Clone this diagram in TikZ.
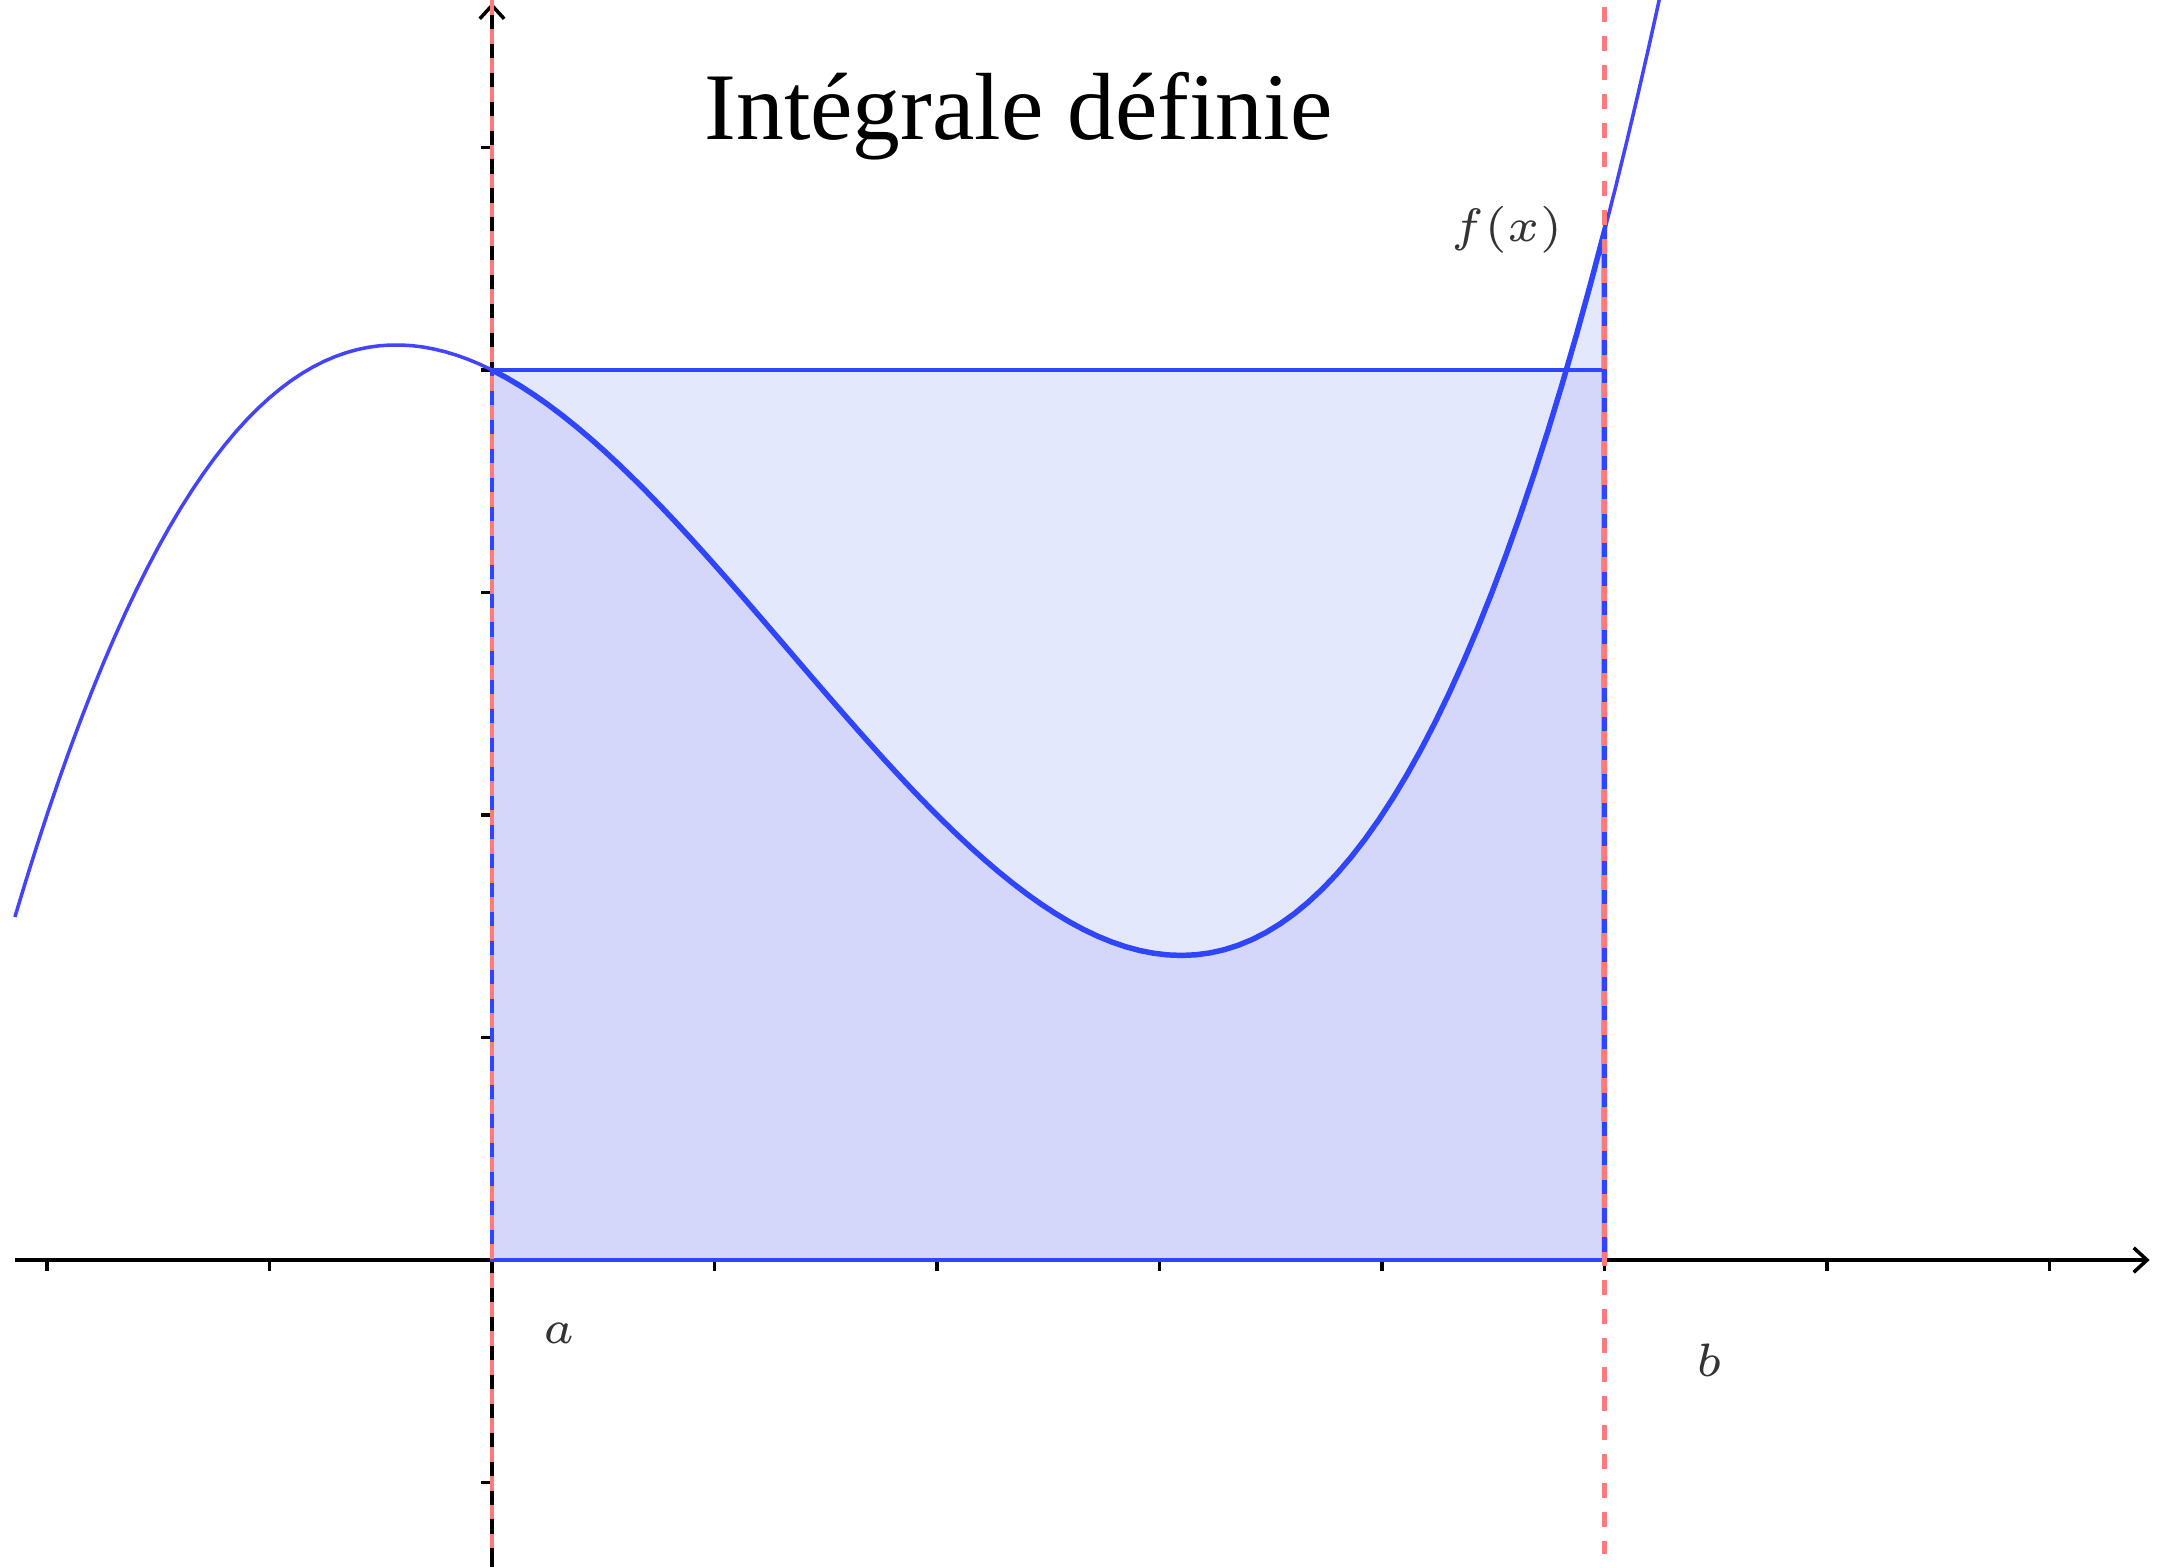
\documentclass[tikz,border=0pt]{standalone}
\usepackage{fontspec}
\newfontfamily\titlefont{Liberation Serif}
\usepackage{xcolor}
\definecolor{cCurve}{HTML}{4444FF}
\definecolor{cBound}{HTML}{2F45FF}
\definecolor{cFillLight}{HTML}{E4E8FC}
\definecolor{cFillDark}{HTML}{D4D7FA}
\definecolor{cDash}{HTML}{FF7B7B}
\definecolor{cLabel}{HTML}{333333}
\usepackage{tikz}
\usetikzlibrary{arrows.meta}
\tikzset{
  declare function={fx(\t)=(\t)*(\t)*(\t)/8-(\t)*(\t)/2-(\t)/2+4;},
  axis-line/.style={line width=0.45pt,draw=black,-{Straight Barb[length=0.6mm,width=1.1mm]}},
  tick-line/.style={line width=0.4pt,draw=black},
  curve-line/.style={line width=0.45pt,draw=cCurve},
  bound-line/.style={line width=0.7pt,draw=cBound},
  rect-line/.style={line width=0.5pt,draw=cBound},
  dash-line/.style={line width=0.6pt,draw=cDash,dash pattern=on 1.9pt off 1.8pt},
  node-label/.style={text=cLabel,font=\fontsize{6.5}{8}\selectfont,inner sep=0pt},
}

\begin{document}
\begin{tikzpicture}
  \useasboundingbox (-2.211,-1.380) rectangle (7.555,5.663);
  % aires
  \fill[cFillLight] (0,0) rectangle (5,4);
  \begin{scope}
    \clip (0,0) rectangle (5,4);
    \fill[cFillDark] (0,0) -- plot[domain=0:5,samples=80] (\x,{fx(\x)}) -- (5,0) -- cycle;
  \end{scope}
  \begin{scope}
    \clip (0,4) rectangle (5,5);
    \fill[cFillLight] (0,0) -- plot[domain=0:5,samples=80] (\x,{fx(\x)}) -- (5,0) -- cycle;
  \end{scope}
  % axes
  \coordinate (xl) at (-2.144,0);
  \coordinate (xr) at (7.45,0);
  \coordinate (yb) at (0,-1.38);
  \coordinate (yt) at (0,5.65);
  \draw[axis-line] (xl) -- (xr);
  \draw[axis-line] (yb) -- (yt);
  \foreach \i in {-2,-1,1,2,...,7} \draw[tick-line] (\i,0) -- (\i,-0.05);
  \foreach \j in {-1,1,2,...,5} \draw[tick-line] (0,\j) -- (-0.05,\j);
  % rectangle et courbe
  \draw[rect-line] (0,0) rectangle (5,4);
  \draw[curve-line,domain=-2.144:5.25,samples=150] plot (\x,{fx(\x)});
  \draw[bound-line,domain=0:5,samples=80] plot (\x,{fx(\x)}) -- (5,0);
  % bornes
  \coordinate (at) at (0,5.663);
  \coordinate (ab) at (0,-1.32);
  \coordinate (bt) at (5,5.63);
  \coordinate (bb) at (5,-1.32);
  \draw[dash-line] (at) -- (ab);
  \draw[dash-line] (bt) -- (bb);
  \node[node-label] (la) at (0.30,-0.33) {$a$};
  \node[node-label] (lb) at (5.47,-0.45) {$b$};
  \node[node-label] (lf) at (4.56,4.63) {$f(x)$};
  \node[font=\titlefont\fontsize{12.2}{14}\selectfont,anchor=base] (title) at (2.366,5.034) {Intégrale définie};
\end{tikzpicture}
\end{document}
